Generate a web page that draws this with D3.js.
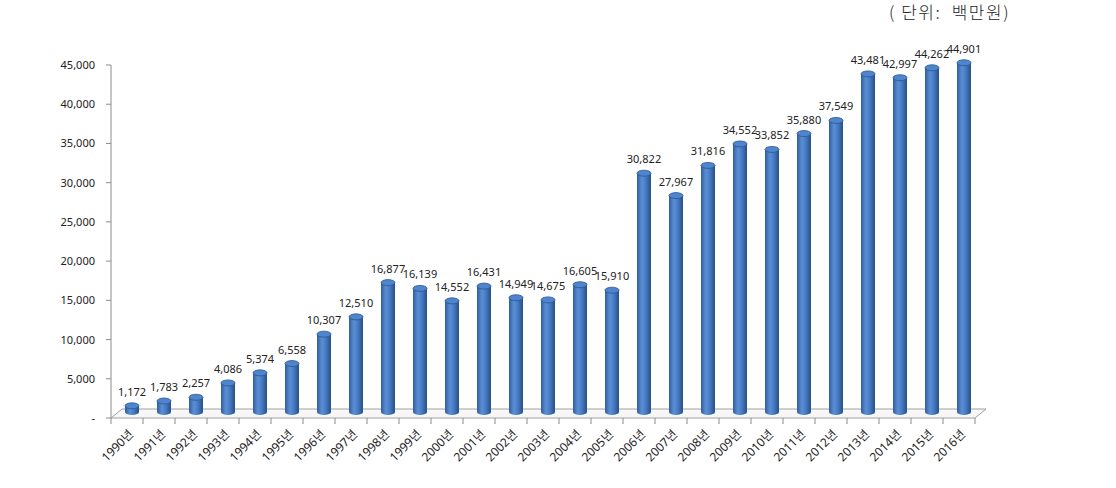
<!DOCTYPE html>
<html><head><meta charset="utf-8">
<script src="https://cdn.jsdelivr.net/npm/d3@7"></script>
<style>body{margin:0;background:#fff}svg{display:block}</style>
</head><body>
<svg id="c" width="1116" height="488"></svg>
<script>
const years = ["1990년","1991년","1992년","1993년","1994년","1995년","1996년","1997년","1998년","1999년","2000년","2001년","2002년","2003년","2004년","2005년","2006년","2007년","2008년","2009년","2010년","2011년","2012년","2013년","2014년","2015년","2016년"];
const values = [1172,1783,2257,4086,5374,6558,10307,12510,16877,16139,14552,16431,14949,14675,16605,15910,30822,27967,31816,34552,33852,35880,37549,43481,42997,44262,44901];
const yTicks = [0,5000,10000,15000,20000,25000,30000,35000,40000,45000];
const unitLabel = "( 단위:  백만원)";

const svg = d3.select("#c");
const font = "'Noto Sans', 'Noto Sans CJK KR', sans-serif";
const x0 = 111, x1 = 975, yBase = 418, yTop = 65;
const dx = 11, dy = -9;
const x = d3.scaleBand().domain(years).range([x0, x1]);
const y = d3.scaleLinear().domain([0, 45000]).range([yBase, yTop]);

const defs = svg.append("defs");
const g = defs.append("linearGradient").attr("id","cyl").attr("x1","0").attr("x2","1").attr("y1","0").attr("y2","0");
g.append("stop").attr("offset","0").attr("stop-color","#2f5f9e");
g.append("stop").attr("offset","0.35").attr("stop-color","#5a8fd6");
g.append("stop").attr("offset","0.6").attr("stop-color","#4a7ec4");
g.append("stop").attr("offset","1").attr("stop-color","#25508a");

// floor
svg.append("path")
  .attr("d", `M${x0},${yBase} L${x0+dx},${yBase+dy} L${x1+dx},${yBase+dy} L${x1},${yBase} Z`)
  .attr("fill","#f7f7f7").attr("stroke","#a0a0a0").attr("stroke-width",1);

// y axis
svg.append("line").attr("x1",x0).attr("x2",x0).attr("y1",yTop).attr("y2",yBase).attr("stroke","#8c8c8c");
const yt = svg.append("g");
yTicks.forEach(t => {
  yt.append("line").attr("x1",x0-5).attr("x2",x0).attr("y1",y(t)).attr("y2",y(t)).attr("stroke","#8c8c8c");
  yt.append("text").attr("x",95).attr("y",y(t)+4).attr("text-anchor","end")
    .attr("font-family",font).attr("font-size",11).attr("fill","#222")
    .text(t === 0 ? "-" : d3.format(",")(t));
});

// x ticks
const bounds = years.map(d => x(d)).concat([x1]);
bounds.forEach(b => {
  svg.append("line").attr("x1",b).attr("x2",b).attr("y1",yBase).attr("y2",yBase+6).attr("stroke","#8c8c8c");
});

// bars (cylinders)
const rx = 7, ry = 3;
const bars = svg.append("g");
years.forEach((d,i) => {
  const cx = x(d) + x.bandwidth()/2 + 5;
  const yb = y(0) - 6, ytp = y(values[i]) - 3;
  bars.append("path")
    .attr("d", `M${cx-rx},${ytp} L${cx-rx},${yb} A${rx},${ry} 0 0 0 ${cx+rx},${yb} L${cx+rx},${ytp} Z`)
    .attr("fill","url(#cyl)");
  bars.append("ellipse").attr("cx",cx).attr("cy",ytp).attr("rx",rx).attr("ry",ry)
    .attr("fill","#4f85cc").attr("stroke","#2a5693").attr("stroke-width",0.8);
  bars.append("text").attr("x",cx).attr("y",y(values[i]) - 13).attr("text-anchor","middle")
    .attr("font-family",font).attr("font-size",11).attr("fill","#222")
    .text(d3.format(",")(values[i]));
});

// x labels
years.forEach(d => {
  const px = x(d) + x.bandwidth()/2 + 4, py = yBase + 14;
  svg.append("text").attr("transform",`translate(${px},${py}) rotate(-45)`)
    .attr("text-anchor","end").attr("dy","0.35em")
    .attr("font-family",font).attr("font-size",12).attr("fill","#222").text(d);
});

svg.append("text").attr("x",1010).attr("y",19).attr("text-anchor","end")
  .attr("xml:space","preserve").style("white-space","pre")
  .attr("letter-spacing","1.5")
  .attr("font-family","'Noto Sans CJK KR', sans-serif").attr("font-size",17).attr("font-weight",300).attr("fill","#222")
  .text(unitLabel);
</script>
</body></html>
